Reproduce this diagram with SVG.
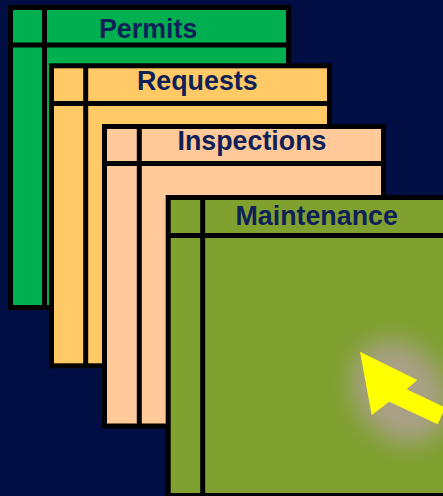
<svg xmlns="http://www.w3.org/2000/svg" width="443" height="496" viewBox="0 0 443 496">
<defs>
<style>
.frame{stroke:#000;stroke-width:5;}
.div{stroke:#000;stroke-width:5;fill:none;}
.lbl{font-family:"Liberation Sans",Arial,sans-serif;font-weight:bold;font-size:26.8px;fill:#0f1f58;}
</style>
<filter id="glow" x="-60%" y="-60%" width="220%" height="220%">
<feGaussianBlur stdDeviation="12"/>
</filter>
</defs>
<rect x="0" y="0" width="443" height="496" fill="#000e44"/>
<g id="permits">
<rect class="frame" x="10.5" y="7.5" width="278" height="300" fill="#00b050"/>
<line class="div" x1="44.5" y1="7.5" x2="44.5" y2="307.5"/>
<line class="div" x1="10.5" y1="45" x2="288.5" y2="45"/>
<text class="lbl" x="99" y="37.5">Permits</text>
</g>
<g id="requests">
<rect class="frame" x="51.5" y="65.8" width="278" height="300" fill="#ffc966"/>
<line class="div" x1="85.7" y1="65.8" x2="85.7" y2="365.8"/>
<line class="div" x1="51.5" y1="103.5" x2="329.5" y2="103.5"/>
<text class="lbl" x="137" y="90">Requests</text>
</g>
<g id="inspections">
<rect class="frame" x="104.5" y="126.5" width="279" height="299.5" fill="#ffc999"/>
<line class="div" x1="139.3" y1="126.5" x2="139.3" y2="426"/>
<line class="div" x1="104.5" y1="163.5" x2="383.5" y2="163.5"/>
<text class="lbl" x="177.5" y="150">Inspections</text>
</g>
<g id="maintenance">
<rect class="frame" x="168.2" y="197.5" width="290" height="298" fill="#80a030"/>
<line class="div" x1="202.7" y1="197.5" x2="202.7" y2="495.5"/>
<line class="div" x1="168.2" y1="235.5" x2="460" y2="235.5"/>
<text class="lbl" x="235.5" y="225">Maintenance</text>
</g>
<g id="arrow">
<ellipse cx="400" cy="392" rx="44" ry="55" transform="rotate(-35 400 392)" fill="#aea090" opacity="0.9" filter="url(#glow)"/>
<polygon points="360,351.7 417.3,380 406.7,389.3 445.3,407.5 437.7,424.3 389.3,401.7 371.7,415" fill="#ffff00"/>
</g>
</svg>
